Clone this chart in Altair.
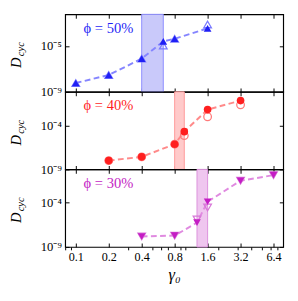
import altair as alt
import pandas as pd

# ---- data ----
x_ticks = [0.1, 0.2, 0.4, 0.8, 1.6, 3.2, 6.4]
x_minor = [0.08, 0.09, 0.3, 0.5, 0.6, 0.7, 0.9, 1, 2, 3, 4, 5, 6, 7]
phi_labels = ["ϕ = 50%", "ϕ = 40%", "ϕ = 30%"]

g50 = [0.1, 0.2, 0.4, 0.63, 0.8, 1.6]
d50_filled = [5.9e-9, 2.95e-8, 7.8e-7, 2.5e-5, 4.2e-5, 3.4e-4]
d50_open = [5.9e-9, 2.95e-8, 7.8e-7, 1.07e-5, 4.2e-5, 7.4e-4]
band50 = [0.4, 0.63]

g40 = [0.2, 0.4, 0.8, 0.98, 1.6, 3.2]
d40_filled = [1.0e-8, 2.7e-8, 7.4e-7, 2.0e-5, 6.5e-3, 6.9e-2]
d40_open = [1.0e-8, 2.7e-8, 7.4e-7, 7.2e-6, 1.0e-3, 2.3e-2]
band40 = [0.8, 0.98]

g30 = [0.4, 0.8, 1.28, 1.6, 3.2, 6.4]
d30_filled = [1.5e-8, 1.9e-8, 5.5e-7, 1.26e-4, 2.95e-2, 0.126]
d30_open = [1.5e-8, 1.9e-8, 1.26e-6, 2.8e-5, 2.95e-2, 0.126]
band30 = [1.28, 1.6]

ydom50 = [1e-9, 5.6e-3]
ydom40 = [1e-9, 0.68]
ydom30 = [1e-9, 0.56]
yt50 = [1e-9, 1e-5]
yt40 = [1e-9, 1e-4]
yt30 = [1e-9, 1e-4]

FONT = "Liberation Serif"
W, H = 225, 80
XDOM = [0.08, 7.85]

label_expr = ("'10' + (round(log(datum.value)/LN10) == -9 ? '⁻⁹' : "
              "round(log(datum.value)/LN10) == -5 ? '⁻⁵' : '⁻⁴')")


def panel(phi, gam, filled, opn, band, ydom, yticks, shape,
          mc, lc, oc, bf, be, bottom):
    df = pd.DataFrame({"g": gam, "f": filled, "o": opn})
    bdf = pd.DataFrame({"a": [band[0]], "b": [band[1]]})
    xs = alt.Scale(type="log", domain=XDOM, nice=False)
    ys = alt.Scale(type="log", domain=ydom, nice=False)
    inward = dict(ticks=True, tickSize=4, offset=-4, labels=False, minExtent=0,
                  domain=False, grid=False, title=None, tickColor="black")

    band_layer = alt.Chart(bdf).mark_rect(fill=bf, stroke=be, strokeWidth=1).encode(
        x=alt.X("a:Q", scale=xs, axis=alt.Axis(orient="top", values=x_ticks, **inward)),
        x2="b:Q",
        y=alt.value(0), y2=alt.value(H))

    if bottom:
        xaxis = alt.Axis(orient="bottom", values=x_ticks, format=".1f", tickSize=4,
                         offset=-4, labelPadding=4, domain=False, grid=False,
                         title="γ₀", titleFont=FONT, titleFontSize=17,
                         titleFontStyle="italic", titleFontWeight="normal",
                         titlePadding=4, labelFont=FONT, labelFontSize=12.5,
                         tickColor="black", labelColor="black")
    else:
        xaxis = alt.Axis(orient="bottom", values=x_ticks, **inward)

    line = alt.Chart(df).mark_line(color=lc, strokeWidth=2, strokeDash=[6, 3.5]).encode(
        x=alt.X("g:Q", scale=xs, axis=xaxis),
        y=alt.Y("f:Q", scale=ys, axis=alt.Axis(
            orient="left", values=yticks, labelExpr=label_expr, tickSize=4,
            offset=-4, labelPadding=4, domain=False, grid=False, title=None,
            labelFont=FONT, labelFontSize=13, tickColor="black", labelColor="black")))

    open_pts = alt.Chart(df).mark_point(shape=shape, filled=False, color=oc, size=62,
                                        strokeWidth=1.3, opacity=1).encode(
        x=alt.X("g:Q", scale=xs, axis=None),
        y=alt.Y("o:Q", scale=ys, axis=alt.Axis(orient="right", values=yticks, **inward)))

    if bottom:
        minor_axis = alt.Axis(orient="bottom", values=x_minor, tickSize=3, offset=0,
                              labels=False, domain=False, grid=False, title=None,
                              tickColor="black")
    else:
        minor_axis = None
    filled_pts = alt.Chart(df).mark_point(shape=shape, filled=True, color=mc, size=62,
                                          opacity=1).encode(
        x=alt.X("g:Q", scale=xs, axis=minor_axis),
        y=alt.Y("f:Q", scale=ys, axis=None))

    title = alt.Chart(pd.DataFrame({"t": [phi]})).mark_text(
        align="left", baseline="middle", font=FONT, fontSize=15, color=mc).encode(
        x=alt.value(19), y=alt.value(14), text="t:N")

    dlab = alt.Chart(pd.DataFrame({"t": ["D"]})).mark_text(
        align="center", baseline="middle", font=FONT, fontSize=15, fontStyle="italic",
        angle=270, color="black").encode(x=alt.value(-51), y=alt.value(50), text="t:N")
    clab = alt.Chart(pd.DataFrame({"t": ["cyc"]})).mark_text(
        align="center", baseline="middle", font=FONT, fontSize=11, fontStyle="italic",
        angle=270, color="black").encode(x=alt.value(-46), y=alt.value(36), text="t:N")

    return alt.layer(band_layer, line, open_pts, filled_pts, title, dlab, clab).resolve_scale(
        x="independent", y="independent").resolve_axis(
        x="independent", y="independent").properties(width=W, height=H)


p1 = panel(phi_labels[0], g50, d50_filled, d50_open, band50, ydom50, yt50, "triangle-up",
           "#1f1ff5", "#8585ff", "#7a7aff", "#c9c9fa", "#8c8cff", False)
p2 = panel(phi_labels[1], g40, d40_filled, d40_open, band40, ydom40, yt40, "circle",
           "#ff1f1f", "#ff8a8a", "#ff7a7a", "#ffcaca", "#ff9a9a", False)
p3 = panel(phi_labels[2], g30, d30_filled, d30_open, band30, ydom30, yt30, "triangle-down",
           "#c41dc4", "#e08ae0", "#d878d8", "#efc6ef", "#dc92dc", True)

chart = alt.vconcat(p1, p2, p3, spacing=0, bounds="flush").resolve_scale(
    x="independent", y="independent").properties(
    padding={"left": 0, "top": 0, "right": 5, "bottom": 5},
    background="white").configure_view(stroke="black", strokeWidth=1.2)

chart.save("out.html", embed_options={"renderer": "svg", "actions": False})
